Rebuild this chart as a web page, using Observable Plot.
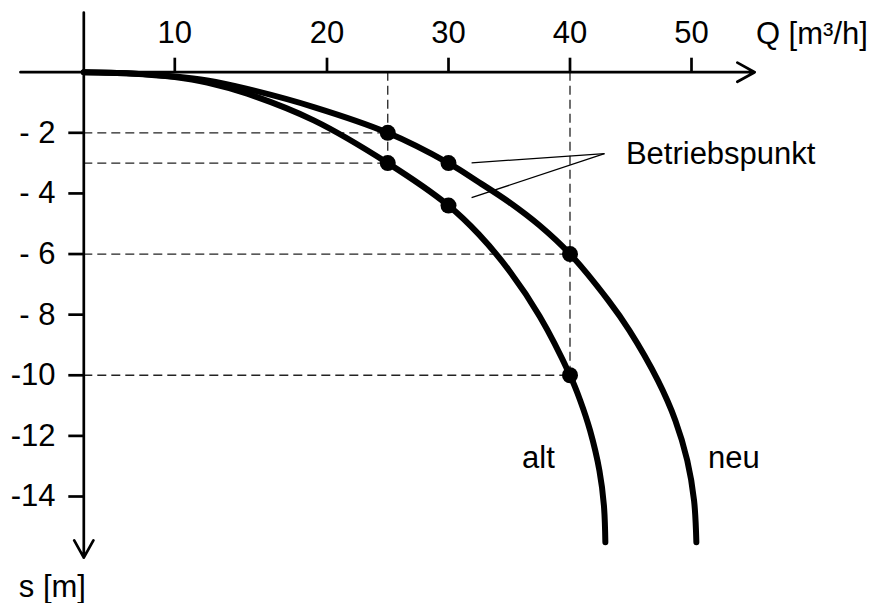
<!DOCTYPE html>
<html><head><meta charset="utf-8">
<script src="https://cdn.jsdelivr.net/npm/d3@7"></script>
<script src="https://cdn.jsdelivr.net/npm/@observablehq/plot@0.6"></script>
<style>html,body{margin:0;padding:0;background:#fff}</style>
</head><body><div id="chart"></div>
<script>
// Axis ticks and labels
const xTicks = [10, 20, 30, 40, 50];
const yTicks = [-2, -4, -6, -8, -10, -12, -14];
const yTickLabels = ["- 2", "- 4", "- 6", "- 8", "-10", "-12", "-14"];
const xAxisTitle = "Q [m³/h]";
const yAxisTitle = "s [m]";

// Curve "neu" (Q in m³/h, s in m)
const neuQ = [0, 5.13, 10, 12.13, 14.76, 19.13, 25, 30, 32.5, 35, 37.5, 40, 43.15, 44.88, 47.23, 48.67, 49.65, 50.21, 50.4];
const neuS = [0, -0.04, -0.14, -0.27, -0.55, -1.15, -2, -3, -3.63, -4.29, -5.06, -6, -7.53, -8.52, -10.17, -11.49, -12.81, -14.13, -15.51];

// Curve "alt"
const altQ = [0, 5.13, 10, 12.13, 14.76, 19.13, 25, 30, 32.5, 35, 37.5, 40, 40.84, 41.65, 42.42, 42.79, 42.91];
const altS = [0, -0.04, -0.16, -0.34, -0.71, -1.59, -3, -4.4, -5.35, -6.55, -8.05, -10, -10.83, -11.82, -13.14, -14.29, -15.51];

// Operating points (Betriebspunkte)
const punktQ = [25, 30, 40, 25, 30, 40];
const punktS = [-2, -3, -6, -3, -4.4, -10];
const hilfsQ = [25, 40]; // Q values with dashed guide lines

// Axis line extents [start, end]
const xAxisExtent = [-6.96, 55.2];
const yAxisExtent = [1.97, -16.02];

// Annotation anchors
const labelNames = ["Betriebspunkt", "alt", "neu", xAxisTitle, yAxisTitle];
const labelQ = [44.6, 36.05, 51.35, 55.3, -7.14];
const labelS = [-3.02, -13.07, -13.05, 0.94, -17.32];
const leaderFromQ = [31.9, 31.9];
const leaderFromS = [-2.99, -4.14];
const leaderToQ = 42.84, leaderToS = -2.69;

const neu = neuQ.map((q, i) => ({q, s: neuS[i]}));
const alt = altQ.map((q, i) => ({q, s: altS[i]}));
const punkte = punktQ.map((q, i) => ({q, s: punktS[i]}));
const guides = punkte.filter(d => hilfsQ.includes(d.q));
const vGuides = hilfsQ.map(q => ({q, s: d3.min(guides.filter(d => d.q === q), d => d.s)}));
const labels = labelNames.map((t, i) => ({t, q: labelQ[i], s: labelS[i]}));
const leaders = leaderFromQ.map((q, i) => ({q1: q, s1: leaderFromS[i], q2: leaderToQ, s2: leaderToS}));
const axes = [
  {x1: xAxisExtent[0], y1: 0, x2: xAxisExtent[1], y2: 0},
  {x1: 0, y1: yAxisExtent[0], x2: 0, y2: yAxisExtent[1]}
];

const FONT = 31;
const chart = Plot.plot({
  width: 874,
  height: 603,
  marginTop: 71.7,
  marginLeft: 83.3,
  marginRight: 0,
  marginBottom: 0,
  style: {fontFamily: "'Liberation Sans', Arial, sans-serif", fontSize: FONT + "px", background: "#fff", color: "#000", overflow: "visible"},
  x: {type: "linear", domain: [0, 10, 20, 50], range: [83.3, 174.3, 326.5, 691], axis: null},
  y: {type: "linear", domain: [0, -14], range: [71.7, 496], axis: null},
  marks: [
    Plot.ruleY(guides, {y: "s", x1: 0, x2: "q", stroke: "#222", strokeWidth: 1.3, strokeDasharray: "9,5"}),
    Plot.ruleX(vGuides, {x: "q", y1: 0, y2: "s", stroke: "#222", strokeWidth: 1.3, strokeDasharray: "9,5"}),
    Plot.line(neu, {x: "q", y: "s", curve: "catmull-rom", stroke: "#000", strokeWidth: 6}),
    Plot.line(alt, {x: "q", y: "s", curve: "catmull-rom", stroke: "#000", strokeWidth: 6}),
    Plot.dot(punkte, {x: "q", y: "s", r: 8, fill: "#000", stroke: null}),
    Plot.link(leaders, {x1: "q1", y1: "s1", x2: "q2", y2: "s2", stroke: "#000", strokeWidth: 1.3}),
    Plot.arrow(axes, {x1: "x1", y1: "y1", x2: "x2", y2: "y2", stroke: "#000", strokeWidth: 2.7, headLength: 11, headAngle: 58}),
    Plot.axisX(xTicks, {anchor: "top", tickSize: 15, tickPadding: 14.4, fontSize: FONT, strokeWidth: 2.7, label: null, stroke: "#000", fill: "#000"}),
    Plot.axisY(yTicks, {anchor: "left", tickSize: 15, tickPadding: 13.3, fontSize: FONT, strokeWidth: 2.7, label: null, tickFormat: d => yTickLabels[yTicks.indexOf(d)], stroke: "#000", fill: "#000"}),
    Plot.text(labels, {x: "q", y: "s", text: "t", textAnchor: "start", lineAnchor: "bottom", fontSize: FONT, fill: "#000"})
  ]
});
document.getElementById("chart").appendChild(chart);
</script>
</body></html>
